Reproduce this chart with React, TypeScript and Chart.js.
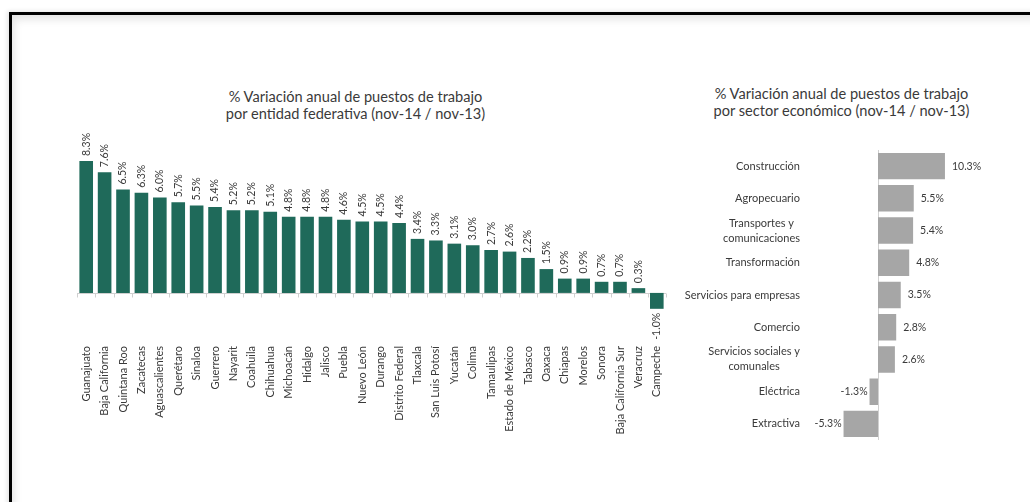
import React, { useEffect, useRef } from "react";
import { Chart, registerables } from "chart.js";
Chart.register(...registerables);

const stateLabels = [
  "Guanajuato", "Baja California", "Quintana Roo", "Zacatecas", "Aguascalientes", "Querétaro",
  "Sinaloa", "Guerrero", "Nayarit", "Coahuila", "Chihuahua", "Michoacán", "Hidalgo", "Jalisco",
  "Puebla", "Nuevo León", "Durango", "Distrito Federal", "Tlaxcala", "San Luis Potosí", "Yucatán",
  "Colima", "Tamaulipas", "Estado de México", "Tabasco", "Oaxaca", "Chiapas", "Morelos", "Sonora",
  "Baja California Sur", "Veracruz", "Campeche",
];
const stateValues = [
  8.3, 7.6, 6.5, 6.3, 6.0, 5.7, 5.5, 5.4, 5.2, 5.2, 5.1, 4.8, 4.8, 4.8, 4.6, 4.5, 4.5, 4.4,
  3.4, 3.3, 3.1, 3.0, 2.7, 2.6, 2.2, 1.5, 0.9, 0.9, 0.7, 0.7, 0.3, -1.0,
];

const sectorLabels: string[][] = [
  ["Construcción"], ["Agropecuario"], ["Transportes y", "comunicaciones"], ["Transformación"],
  ["Servicios para empresas"], ["Comercio"], ["Servicios sociales y", "comunales"], ["Eléctrica"], ["Extractiva"],
];
const sectorValues = [10.3, 5.5, 5.4, 4.8, 3.5, 2.8, 2.6, -1.3, -5.3];

const leftTitle = ["% Variación anual de puestos de trabajo", "por entidad federativa (nov-14 / nov-13)"];
const rightTitle = ["% Variación anual de puestos de trabajo", "por sector económico (nov-14 / nov-13)"];

const FONT = "Lato, 'Open Sans', sans-serif";
const TITLE_FONT = "Lato, 'Open Sans', sans-serif";
const TEXT = "#3A3A3A";
const GREEN = "#1F6A5A";
const GRAY = "#A6A6A6";
const AXIS = "#D0D0D0";
const fmt = (v: number) => v.toFixed(1) + "%";

const leftPlugin = {
  id: "leftDecor",
  beforeDatasetsDraw(chart: any) {
    const { ctx, chartArea, scales } = chart;
    const y0 = Math.round(scales.y.getPixelForValue(0)) + 0.5;
    const xs = scales.x;
    const step = xs.getPixelForValue(1) - xs.getPixelForValue(0);
    ctx.save();
    ctx.strokeStyle = AXIS;
    ctx.lineWidth = 1;
    ctx.beginPath();
    ctx.moveTo(chartArea.left, y0);
    ctx.lineTo(chartArea.right, y0);
    for (let i = 0; i <= stateValues.length; i++) {
      const x = Math.round(xs.getPixelForValue(i) - step / 2) + 0.5;
      ctx.moveTo(x, y0);
      ctx.lineTo(x, y0 + 4);
    }
    ctx.stroke();
    ctx.restore();
  },
  afterDatasetsDraw(chart: any) {
    const { ctx } = chart;
    const meta = chart.getDatasetMeta(0);
    ctx.save();
    ctx.fillStyle = TEXT;
    ctx.font = `10.5px ${FONT}`;
    ctx.textBaseline = "middle";
    meta.data.forEach((bar: any, i: number) => {
      const v = stateValues[i];
      ctx.save();
      ctx.translate(bar.x, bar.y);
      ctx.rotate(-Math.PI / 2);
      if (v >= 0) {
        ctx.textAlign = "left";
        ctx.fillText(fmt(v), 5, 0);
      } else {
        ctx.textAlign = "right";
        ctx.fillText(fmt(v), -4, 0);
      }
      ctx.restore();
    });
    ctx.restore();
  },
};

const rightPlugin = {
  id: "rightDecor",
  beforeDatasetsDraw(chart: any) {
    const { ctx, chartArea, scales } = chart;
    const x0 = Math.round(scales.x.getPixelForValue(0)) + 0.5;
    ctx.save();
    ctx.strokeStyle = AXIS;
    ctx.lineWidth = 1;
    ctx.beginPath();
    ctx.moveTo(x0, chartArea.top);
    ctx.lineTo(x0, chartArea.bottom);
    ctx.stroke();
    ctx.restore();
  },
  afterDatasetsDraw(chart: any) {
    const { ctx, scales } = chart;
    const meta = chart.getDatasetMeta(0);
    ctx.save();
    ctx.fillStyle = TEXT;
    ctx.font = `10.5px ${FONT}`;
    ctx.textBaseline = "middle";
    meta.data.forEach((bar: any, i: number) => {
      const v = sectorValues[i];
      if (v >= 0) {
        ctx.textAlign = "left";
        ctx.fillText(fmt(v), bar.x + 7, bar.y);
      } else {
        ctx.textAlign = "right";
        ctx.fillText(fmt(v), bar.x - 2, bar.y);
      }
    });
    // category labels: block right-aligned, lines centred in the block
    ctx.font = `11px ${FONT}`;
    const rightEdge = 800 - 680;
    const lh = 15;
    sectorLabels.forEach((lines, i) => {
      const y = scales.y.getPixelForValue(i);
      const w = Math.max(...lines.map((l) => ctx.measureText(l).width));
      const cx = rightEdge - w / 2;
      ctx.textAlign = "center";
      lines.forEach((l, j) => {
        ctx.fillText(l, cx, y + (j - (lines.length - 1) / 2) * lh);
      });
    });
    ctx.restore();
  },
};

function LeftChart() {
  const ref = useRef<HTMLCanvasElement>(null);
  useEffect(() => {
    const chart = new Chart(ref.current!, {
      type: "bar",
      data: {
        labels: stateLabels,
        datasets: [{ data: stateValues, backgroundColor: GREEN, barPercentage: 0.74, categoryPercentage: 1 }],
      },
      options: {
        animation: false,
        responsive: false,
        layout: { padding: { left: 17, right: 24, top: 14, bottom: 10 } },
        plugins: { legend: { display: false }, tooltip: { enabled: false } },
        scales: {
          y: { display: false, min: -2.9, max: 10 },
          x: {
            grid: { display: false, drawTicks: false },
            border: { display: false },
            ticks: {
              autoSkip: false, minRotation: 90, maxRotation: 90, padding: 7,
              color: TEXT, font: { family: FONT, size: 11 },
            },
            afterFit: (s: any) => { s.height = 100; },
          },
        },
      },
      plugins: [leftPlugin],
    } as any);
    return () => chart.destroy();
  }, []);
  return <canvas ref={ref} width={630} height={329} style={{ position: "absolute", left: 60, top: 120, width: 630, height: 329 }} />;
}

function RightChart() {
  const ref = useRef<HTMLCanvasElement>(null);
  useEffect(() => {
    const chart = new Chart(ref.current!, {
      type: "bar",
      data: {
        labels: sectorLabels.map((l) => l.join(" ")),
        datasets: [{ data: sectorValues, backgroundColor: GRAY, barPercentage: 0.82, categoryPercentage: 1 }],
      },
      options: {
        indexAxis: "y",
        animation: false,
        responsive: false,
        layout: { padding: { left: 155.75, right: 64, top: 10, bottom: 10 } },
        plugins: { legend: { display: false }, tooltip: { enabled: false } },
        scales: {
          x: { display: false, min: -6.5, max: 12 },
          y: { display: false },
        },
      },
      plugins: [rightPlugin],
    } as any);
    return () => chart.destroy();
  }, []);
  return <canvas ref={ref} width={340} height={310} style={{ position: "absolute", left: 680, top: 140, width: 340, height: 310 }} />;
}

const titleStyle: React.CSSProperties = {
  position: "absolute",
  width: 400,
  textAlign: "center",
  fontFamily: TITLE_FONT,
  fontSize: 14.6,
  lineHeight: "17px",
  color: TEXT,
  whiteSpace: "nowrap",
};

export default function App() {
  return (
    <div style={{ position: "absolute", left: 0, top: 0, width: 1030, height: 502, overflow: "hidden", background: "#fff" }}>
      <div
        style={{
          position: "absolute", left: 9, top: 12, width: 1100, height: 600,
          borderLeft: "3px solid #000", borderTop: "3px solid #000",
          boxShadow: "inset 2px 4px 8px rgba(0,0,0,0.12), -2px -1px 4px rgba(0,0,0,0.1)",
        }}
      />
      <div style={{ ...titleStyle, left: 155.5, top: 87.5 }}>
        {leftTitle.map((t, i) => <div key={i}>{t}</div>)}
      </div>
      <div style={{ ...titleStyle, left: 641.5, top: 84.5 }}>
        {rightTitle.map((t, i) => <div key={i}>{t}</div>)}
      </div>
      <LeftChart />
      <RightChart />
    </div>
  );
}
